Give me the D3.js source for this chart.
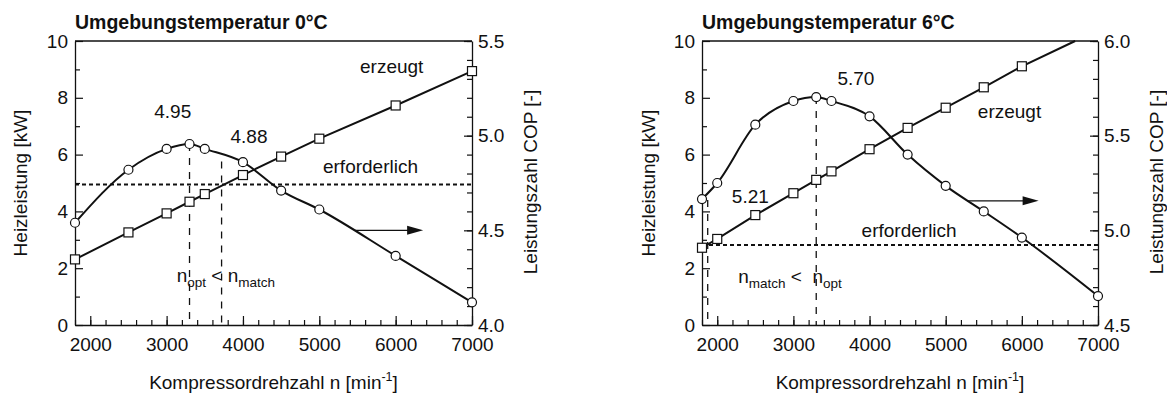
<!DOCTYPE html>
<html>
<head>
<meta charset="utf-8">
<script src="https://cdn.jsdelivr.net/npm/d3@7"></script>
<style>
  body { margin: 0; background: #fff; }
  svg text { font-family: "Liberation Sans", Arial, sans-serif; fill: #111; white-space: pre; }
</style>
</head>
<body>
<svg id="chart" width="1167" height="395"></svg>
<script>
// Kompressordrehzahl [min^-1], Heizleistung [kW], Leistungszahl COP [-]
const drehzahl0 = [1800, 2500, 3000, 3300, 3500, 4000, 4500, 5000, 6000, 7000];
const erzeugt0 = [2.31, 3.26, 3.93, 4.34, 4.61, 5.28, 5.93, 6.56, 7.73, 8.94];
const cop0 = [4.54, 4.82, 4.93, 4.956, 4.93, 4.86, 4.71, 4.61, 4.365, 4.12];
const erforderlich0 = 4.95;

const drehzahl6 = [1800, 2000, 2500, 3000, 3300, 3500, 4000, 4500, 5000, 5500, 6000, 7000];
const erzeugtN6 = [1800, 2000, 2500, 3000, 3300, 3500, 4000, 4500, 5000, 5500, 6000];
const erzeugt6 = [2.72, 3.03, 3.87, 4.64, 5.11, 5.41, 6.19, 6.94, 7.65, 8.37, 9.11];
const erzeugtEnde6 = [6700, 10.0];   // line runs on to the top frame
const cop6 = [5.165, 5.25, 5.558, 5.683, 5.704, 5.683, 5.602, 5.40, 5.235, 5.10, 4.962, 4.653];
const erforderlich6 = 2.82;

const xTicksMajor = [2000, 3000, 4000, 5000, 6000, 7000];
const kwTicks = [0, 2, 4, 6, 8, 10];

const svg = d3.select('#chart');
const FS = 19;

function drawPanel(p) {
    const x = d3.scaleLinear().domain([1800, 7000]).range([p.left, p.right]);
    const yKw = d3.scaleLinear().domain([0, 10]).range([325, 41]);
    const yCop = d3.scaleLinear().domain(p.copDomain).range([325, 41]);
    const g = svg.append('g');

    // frame top
    g.append('line')
        .attr('x1', p.left).attr('x2', p.right)
        .attr('y1', yKw(10)).attr('y2', yKw(10))
        .attr('stroke', '#111').attr('stroke-width', 1.3);

    // x axis (ticks pointing inward)
    const minorX = d3.range(1800, 7001, 200);
    g.append('g').attr('transform', 'translate(0,325)')
        .call(d3.axisBottom(x).tickValues(minorX).tickSize(-5).tickSizeOuter(0).tickFormat(''))
        .call(s => s.select('.domain').remove());
    g.append('g').attr('transform', 'translate(0,325)')
        .call(d3.axisBottom(x).tickValues(xTicksMajor).tickSize(-9).tickSizeOuter(0).tickPadding(13).tickFormat(d3.format('d')));

    // left axis
    g.append('g').attr('transform', 'translate(' + p.left + ',0)')
        .call(d3.axisLeft(yKw).tickValues([1, 3, 5, 7, 9]).tickSize(-5).tickFormat(''))
        .call(s => s.select('.domain').remove());
    g.append('g').attr('transform', 'translate(' + p.left + ',0)')
        .call(d3.axisLeft(yKw).tickValues(kwTicks).tickSize(-8).tickSizeOuter(0).tickPadding(7));

    // right axis
    const minorC = d3.range(p.copDomain[0], p.copDomain[1] + 0.001, 0.1);
    g.append('g').attr('transform', 'translate(' + p.right + ',0)')
        .call(d3.axisRight(yCop).tickValues(minorC).tickSize(-5).tickFormat(''))
        .call(s => s.select('.domain').remove());
    g.append('g').attr('transform', 'translate(' + p.right + ',0)')
        .call(d3.axisRight(yCop).tickValues(p.copTicks).tickSize(-8).tickSizeOuter(0).tickPadding(6).tickFormat(d3.format('.1f')));

    g.selectAll('.tick line').attr('stroke', '#111').attr('stroke-width', 1.2);
    g.selectAll('.domain').attr('stroke', '#111').attr('stroke-width', 1.3);
    g.selectAll('.tick text').attr('font-size', FS).attr('font-family', '"Liberation Sans", Arial, sans-serif').attr('fill', '#111');

    // erforderlich (dotted)
    g.append('line')
        .attr('x1', p.left).attr('x2', p.right)
        .attr('y1', yKw(p.erforderlich)).attr('y2', yKw(p.erforderlich))
        .attr('stroke', '#111').attr('stroke-width', 2).attr('stroke-dasharray', '4,3');

    // vertical dashed markers
    p.vLines.forEach(v => {
        g.append('line')
            .attr('x1', x(v.n)).attr('x2', x(v.n))
            .attr('y1', yCop(v.top)).attr('y2', 325)
            .attr('stroke', '#111').attr('stroke-width', 1.3).attr('stroke-dasharray', '7,7');
    });

    // erzeugt line
    const kwPts = p.erzeugtN.map((n, i) => [n, p.erzeugt[i]]);
    const linePts = p.erzeugtEnde ? kwPts.concat([p.erzeugtEnde]) : kwPts;
    g.append('path')
        .attr('d', d3.line().x(d => x(d[0])).y(d => yKw(d[1]))(linePts))
        .attr('fill', 'none').attr('stroke', '#111').attr('stroke-width', 2);

    // COP curve
    const copPts = p.copN.map((n, i) => [n, p.cop[i]]);
    g.append('path')
        .attr('d', d3.line().curve(d3.curveMonotoneX).x(d => x(d[0])).y(d => yCop(d[1]))(copPts))
        .attr('fill', 'none').attr('stroke', '#111').attr('stroke-width', 2);

    // arrow pointing to COP axis
    const ay = yCop(p.arrow[2]);
    const ax0 = x(p.arrow[0]), ax1 = x(p.arrow[1]);
    g.append('line').attr('x1', ax0).attr('x2', ax1 - 14).attr('y1', ay).attr('y2', ay)
        .attr('stroke', '#111').attr('stroke-width', 1.3);
    g.append('path')
        .attr('d', 'M' + ax1 + ',' + ay + 'L' + (ax1 - 16) + ',' + (ay - 4.5) + 'L' + (ax1 - 16) + ',' + (ay + 4.5) + 'Z')
        .attr('fill', '#111');

    // markers
    g.selectAll('rect.sq').data(kwPts).enter().append('rect')
        .attr('x', d => x(d[0]) - 4.5).attr('y', d => yKw(d[1]) - 4.5)
        .attr('width', 9).attr('height', 9)
        .attr('fill', '#fff').attr('stroke', '#111').attr('stroke-width', 1.2);
    g.selectAll('circle.ci').data(copPts).enter().append('circle')
        .attr('cx', d => x(d[0])).attr('cy', d => yCop(d[1])).attr('r', 4.5)
        .attr('fill', '#fff').attr('stroke', '#111').attr('stroke-width', 1.2);

    // texts
    g.append('text').attr('x', p.left).attr('y', 29)
        .attr('font-size', 19.5).attr('font-weight', 'bold').text(p.title);

    p.labels.forEach(l => {
        g.append('text').attr('x', x(l.n)).attr('y', yKw(l.kw))
            .attr('font-size', FS).attr('text-anchor', l.anchor || 'start').text(l.t);
    });

    const nl = g.append('text').attr('x', x(p.nLabel.n)).attr('y', yKw(p.nLabel.kw))
        .attr('font-size', FS);
    p.nLabel.parts.forEach(part => {
        nl.append('tspan').attr('font-size', part.sub ? 13.5 : FS)
            .attr('dy', part.sub ? 5 : (part.back ? -5 : 0)).text(part.t);
    });

    const xl = g.append('text').attr('x', (p.left + p.right) / 2).attr('y', 389)
        .attr('font-size', FS).attr('text-anchor', 'middle');
    xl.append('tspan').text('Kompressordrehzahl n [min');
    xl.append('tspan').attr('font-size', 12.5).attr('dy', -8).text('-1');
    xl.append('tspan').attr('dy', 8).text(']');

    g.append('text').attr('transform', 'translate(' + p.yLabelL + ',183) rotate(-90)')
        .attr('font-size', FS).attr('text-anchor', 'middle').text('Heizleistung [kW]');
    g.append('text').attr('transform', 'translate(' + p.yLabelR + ',182) rotate(-90)')
        .attr('font-size', FS).attr('text-anchor', 'middle').text('Leistungszahl COP [-]');
}

drawPanel({
    left: 75, right: 472,
    title: 'Umgebungstemperatur 0°C',
    copDomain: [4.0, 5.5], copTicks: [4.0, 4.5, 5.0, 5.5],
    erzeugtN: drehzahl0, erzeugt: erzeugt0,
    copN: drehzahl0, cop: cop0,
    erforderlich: erforderlich0,
    vLines: [{ n: 3300, top: 4.956 }, { n: 3720, top: 4.864 }],
    arrow: [5470, 6360, 4.50],
    labels: [
        { t: '4.95', n: 3080, kw: 7.29, anchor: 'middle' },
        { t: '4.88', n: 4079, kw: 6.42, anchor: 'middle' },
        { t: 'erzeugt', n: 5533, kw: 8.87 },
        { t: 'erforderlich', n: 5048, kw: 5.36 }
    ],
    nLabel: { n: 3132, kw: 1.52, parts: [
        { t: 'n' }, { t: 'opt', sub: true }, { t: ' < n', back: true }, { t: 'match', sub: true }
    ] },
    yLabelL: 27, yLabelR: 537
});

drawPanel({
    left: 702, right: 1098,
    title: 'Umgebungstemperatur 6°C',
    copDomain: [4.5, 6.0], copTicks: [4.5, 5.0, 5.5, 6.0],
    erzeugtN: erzeugtN6, erzeugt: erzeugt6, erzeugtEnde: erzeugtEnde6,
    copN: drehzahl6, cop: cop6,
    erforderlich: erforderlich6,
    vLines: [{ n: 1875, top: 5.16 }, { n: 3300, top: 5.704 }],
    arrow: [5280, 6220, 5.156],
    labels: [
        { t: '5.70', n: 3821, kw: 8.45, anchor: 'middle' },
        { t: '5.21', n: 2435, kw: 4.31, anchor: 'middle' },
        { t: 'erzeugt', n: 5422, kw: 7.29 },
        { t: 'erforderlich', n: 3896, kw: 3.11 }
    ],
    nLabel: { n: 2276, kw: 1.47, parts: [
        { t: 'n' }, { t: 'match', sub: true }, { t: ' <  n', back: true }, { t: 'opt', sub: true }
    ] },
    yLabelL: 655, yLabelR: 1163
});
</script>
</body>
</html>
